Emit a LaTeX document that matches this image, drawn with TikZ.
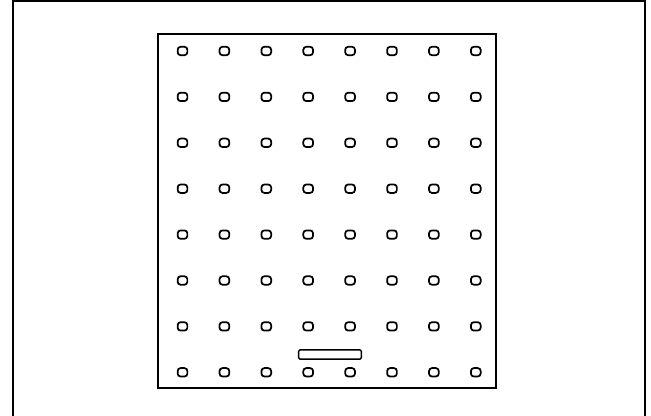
\documentclass[tikz,border=0pt]{standalone}
\begin{document}
\begin{tikzpicture}[x=0.75pt,y=-0.75pt,
  frameline/.style={draw=black,line width=1.6pt},
  pad/.style={draw=black,line width=1.3pt,rounded corners=2.2pt,minimum width=7.3pt,minimum height=6.3pt,inner sep=0pt},
  bar/.style={draw=black,line width=1.1pt,rounded corners=1pt,minimum width=47pt,minimum height=7pt,inner sep=0pt}]
\useasboundingbox (0,0) rectangle (651,415);
\coordinate (fa) at (13,416);
\coordinate (fb) at (13,1);
\coordinate (fc) at (645,1);
\coordinate (fd) at (645,416);
\draw[frameline] (fa) -- (fb) -- (fc) -- (fd);
\node[frameline,line width=1.4pt,minimum width=253pt,minimum height=265.5pt,inner sep=0pt] (board) at (327,211) {};
\foreach \i in {0,...,7}{
  \foreach \j in {0,...,7}{
    \node[pad] (p-\i-\j) at ({182.5+41.9*\i},{51+45.9*\j}) {};
  }
}
\node[bar] (slot) at (330,354.5) {};
\end{tikzpicture}
\end{document}
